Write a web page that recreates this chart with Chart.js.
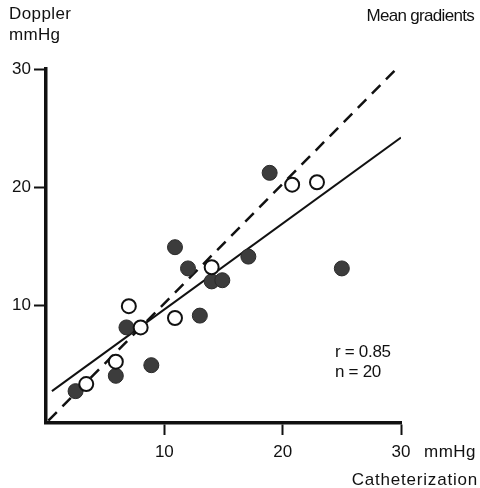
<!DOCTYPE html>
<html>
<head>
<meta charset="utf-8">
<script src="https://cdn.jsdelivr.net/npm/chart.js@4.4.0/dist/chart.umd.min.js"></script>
<style>
  html, body { margin: 0; padding: 0; background: #fff; }
  #wrap { width: 480px; height: 488px; }
</style>
</head>
<body>
<div id="wrap"><canvas id="chart" width="480" height="488"></canvas></div>
<script>
// catheterization (x) vs doppler (y) mean gradients, mmHg
const filledX = [2.5, 5.9, 8.9, 6.8, 13.0, 10.9, 12.0, 14.0, 14.9, 17.1, 18.9, 25.0];
const filledY = [2.7, 4.0, 4.9, 8.1, 9.1, 14.9, 13.1, 12.0, 12.1, 14.1, 21.2, 13.1];
const openX = [3.4, 5.9, 7.0, 8.0, 10.9, 14.0, 20.8, 22.9];
const openY = [3.3, 5.2, 9.9, 8.1, 8.9, 13.2, 20.2, 20.4];
const regressionX = [0.5, 30];
const regressionY = [2.7, 24.2];
const identityX = [0.2, 29.9];
const identityY = [0.2, 30.3];
const tickValues = [10, 20, 30];

const FONT = '"Liberation Sans", Arial, Helvetica, sans-serif';
const INK = '#111111';

const toPoints = (xs, ys) => xs.map((x, i) => ({ x, y: ys[i] }));

function label(ctx, text, x, y, align, spacing) {
  ctx.textAlign = align;
  ctx.letterSpacing = (spacing || 0) + 'px';
  ctx.fillText(text, x, y);
}

const textPlugin = {
  id: 'labels',
  afterDraw(chart) {
    const ctx = chart.ctx;
    ctx.save();
    ctx.fillStyle = INK;
    ctx.font = `17px ${FONT}`;
    ctx.textBaseline = 'alphabetic';
    label(ctx, 'Doppler', 9, 19, 'left', 0.4);
    label(ctx, 'mmHg', 9, 40, 'left', 0.3);
    label(ctx, 'r = 0.85', 335, 357, 'left', -0.3);
    label(ctx, 'n = 20', 335, 377, 'left', -0.3);
    label(ctx, 'mmHg', 424, 457, 'left', 0.5);
    label(ctx, 'Mean gradients', 474, 21, 'right', -0.7);
    label(ctx, 'Catheterization', 478, 485, 'right', 0.8);
    ctx.restore();
  }
};

const tickGrid = {
  display: true,
  drawOnChartArea: false,
  drawTicks: true,
  tickLength: 12,
  tickWidth: 2,
  tickColor: (c) => (c.tick && c.tick.value === 0 ? 'rgba(0,0,0,0)' : INK),
  color: 'rgba(0,0,0,0)'
};

new Chart(document.getElementById('chart'), {
  type: 'scatter',
  data: {
    datasets: [
      {
        label: 'open',
        data: toPoints(openX, openY),
        pointRadius: 7,
        pointBackgroundColor: '#ffffff',
        pointBorderColor: INK,
        pointBorderWidth: 2,
        order: 1
      },
      {
        label: 'filled',
        data: toPoints(filledX, filledY),
        pointRadius: 7.5,
        pointBackgroundColor: '#3c3c3c',
        pointBorderColor: '#2a2a2a',
        pointBorderWidth: 1,
        order: 2
      },
      {
        label: 'regression',
        type: 'line',
        data: toPoints(regressionX, regressionY),
        borderColor: INK,
        borderWidth: 2,
        pointRadius: 0,
        fill: false,
        order: 3
      },
      {
        label: 'identity',
        type: 'line',
        data: toPoints(identityX, identityY),
        borderColor: INK,
        borderWidth: 2.5,
        borderDash: [12, 8],
        pointRadius: 0,
        fill: false,
        order: 3
      }
    ]
  },
  options: {
    responsive: false,
    animation: false,
    layout: { padding: { top: 69, right: 79, left: 0, bottom: 0 } },
    plugins: {
      legend: { display: false },
      tooltip: { enabled: false }
    },
    scales: {
      x: {
        type: 'linear',
        min: 0,
        max: 30,
        afterBuildTicks: (s) => { s.ticks = [0, ...tickValues].map((v) => ({ value: v })); },
        afterFit: (s) => { s.height = 65; },
        border: { display: true, color: INK, width: 3.5 },
        grid: tickGrid,
        ticks: {
          color: INK,
          padding: 7,
          maxRotation: 0,
          font: { family: FONT, size: 17 },
          callback: (v) => (v === 0 ? '' : v)
        }
      },
      y: {
        type: 'linear',
        min: 0,
        max: 30,
        afterBuildTicks: (s) => { s.ticks = [0, ...tickValues].map((v) => ({ value: v })); },
        afterFit: (s) => { s.width = 46; },
        border: { display: true, color: INK, width: 3.5 },
        grid: tickGrid,
        ticks: {
          color: INK,
          padding: 3,
          font: { family: FONT, size: 17 },
          callback: (v) => (v === 0 ? '' : v)
        }
      }
    }
  },
  plugins: [textPlugin]
});
</script>
</body>
</html>
